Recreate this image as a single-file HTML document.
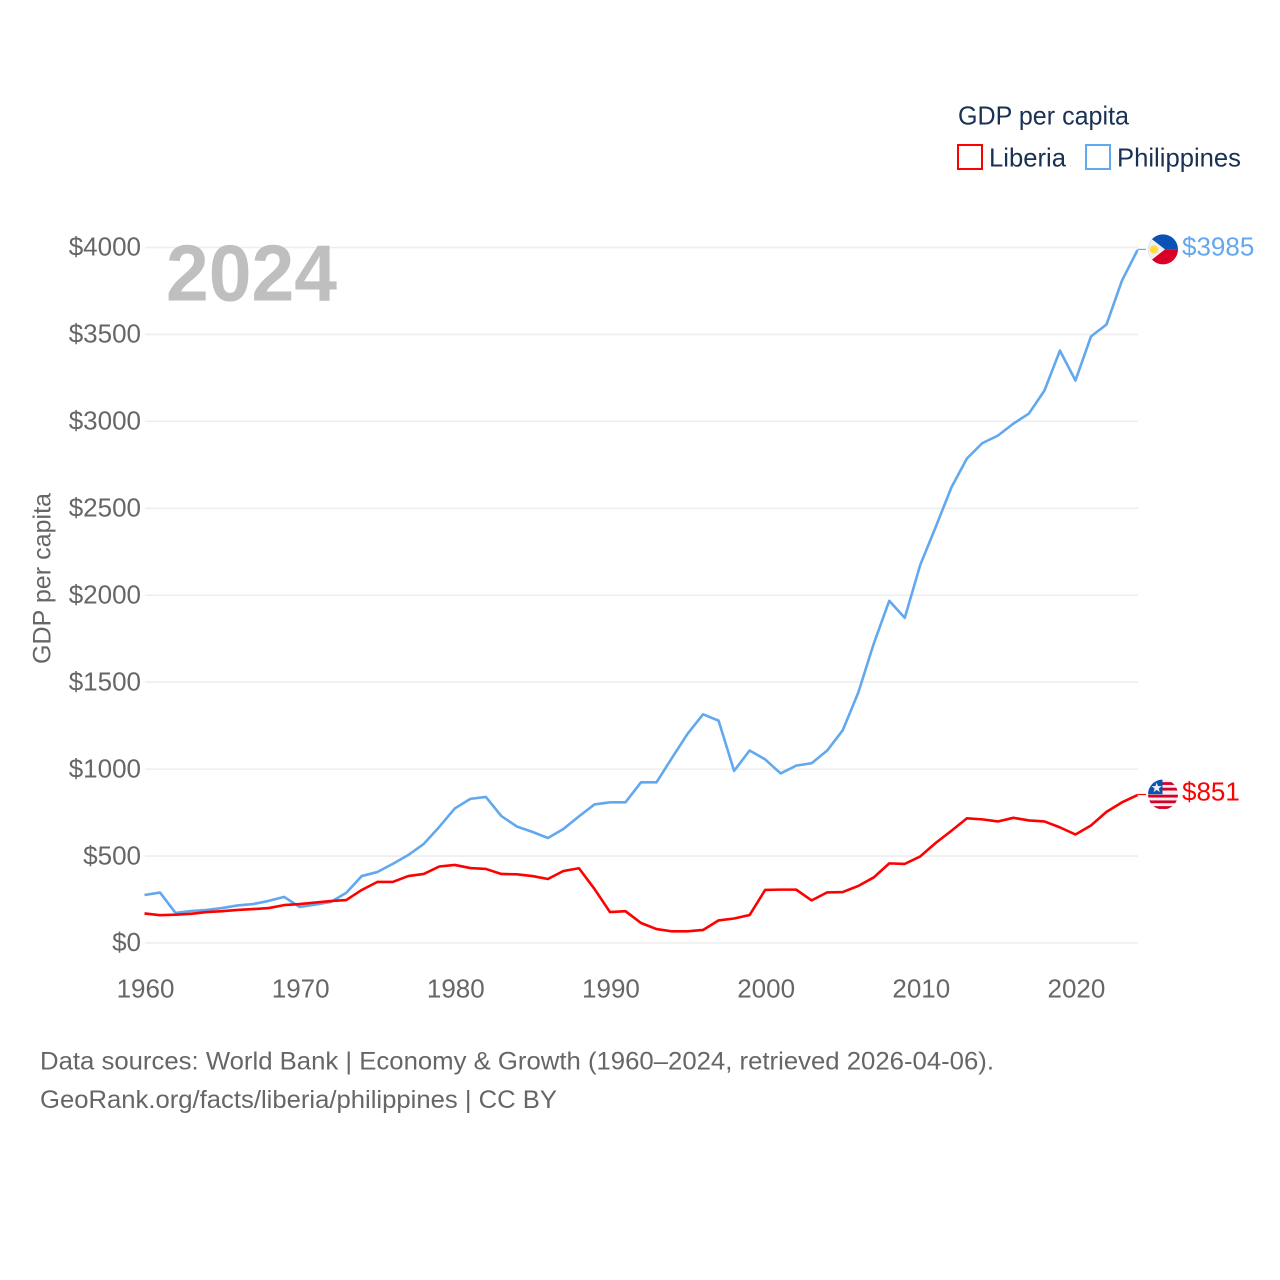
<!DOCTYPE html>
<html lang="en">
<head>
<meta charset="utf-8">
<title>GDP per capita: Liberia vs Philippines</title>
<style>
html,body{margin:0;padding:0;background:#fff;}
svg{display:block;font-family:"Liberation Sans",sans-serif;}
</style>
</head>
<body>
<svg id="chart" xmlns="http://www.w3.org/2000/svg" width="1280" height="1280" viewBox="0 0 1280 1280">
  <rect x="0" y="0" width="1280" height="1280" fill="#ffffff"/>
  <g id="grid"></g>
  <g id="yticks"></g>
  <g id="xticks"></g>
  <text x="166" y="300.5" font-size="80" font-weight="700" fill="#bfbfbf" textLength="171" lengthAdjust="spacingAndGlyphs">2024</text>
  <text transform="translate(50.5,664) rotate(-90)" font-size="25" fill="#666666" textLength="171" lengthAdjust="spacingAndGlyphs">GDP per capita</text>
  <g id="series"></g>
  <g id="ends"></g>
  <g>
    <text x="958" y="124.5" font-size="26" fill="#1a3154" textLength="171" lengthAdjust="spacingAndGlyphs">GDP per capita</text>
    <g>
      <rect x="958" y="145" width="24" height="24" fill="#ffffff" stroke="#ff0000" stroke-width="2"/>
      <text x="989" y="166.5" font-size="26" fill="#1a3154" textLength="77" lengthAdjust="spacingAndGlyphs">Liberia</text>
    </g>
    <g>
      <rect x="1086" y="145" width="24" height="24" fill="#ffffff" stroke="#62a8ee" stroke-width="2"/>
      <text x="1117" y="166.5" font-size="26" fill="#1a3154" textLength="124" lengthAdjust="spacingAndGlyphs">Philippines</text>
    </g>
  </g>
  <g>
    <text x="40" y="1069.5" font-size="25" fill="#666666" textLength="954" lengthAdjust="spacingAndGlyphs">Data sources: World Bank | Economy &amp; Growth (1960–2024, retrieved 2026-04-06).</text>
    <text x="40" y="1108" font-size="25" fill="#666666" textLength="517" lengthAdjust="spacingAndGlyphs">GeoRank.org/facts/liberia/philippines | CC BY</text>
  </g>
</svg>
<script>
const startYear = 1960;
const endYear = 2024;
const yTickValues = [0, 500, 1000, 1500, 2000, 2500, 3000, 3500, 4000];
const xTickYears = [1960, 1970, 1980, 1990, 2000, 2010, 2020];
const liberiaValues = [170,160,163,168,178,183,190,195,201,218,224,233,241,247,305,351,351,385,397,440,449,431,426,397,395,385,368,414,430,311,178,183,115,80,67,67,75,130,141,161,305,307,307,245,291,293,328,377,458,455,498,576,645,717,711,699,720,705,699,665,624,676,754,809,851];
const philippinesValues = [276,290,173,184,190,201,216,224,242,265,207,221,236,288,385,408,455,506,570,668,774,829,840,730,670,639,604,656,728,797,809,809,924,924,1065,1203,1315,1279,990,1107,1056,975,1020,1034,1107,1223,1439,1721,1968,1870,2175,2394,2619,2786,2875,2918,2987,3045,3177,3407,3235,3488,3557,3810,3985];

const NS = 'http://www.w3.org/2000/svg';
const plotLeft = 144.5, plotRight = 1137.5, plotBottom = 943, plotTop = 247.5;
const gridLeft = 145, gridRight = 1138;
const yMax = yTickValues[yTickValues.length - 1];
function xScale(year) { return plotLeft + (year - startYear) * (plotRight - plotLeft) / (endYear - startYear); }
function yScale(v) { return plotBottom - v * (plotBottom - plotTop) / yMax; }
function make(tag, attrs, parent, text) {
  const el = document.createElementNS(NS, tag);
  for (const k in attrs) el.setAttribute(k, attrs[k]);
  if (text !== undefined) el.textContent = text;
  parent.appendChild(el);
  return el;
}

const gridG = document.getElementById('grid');
const yG = document.getElementById('yticks');
yTickValues.forEach(function (v) {
  const line = make('line', {x1: gridLeft, x2: gridRight, y1: yScale(v), y2: yScale(v), stroke: '#eeeeee', 'stroke-width': 1.6}, gridG);
  
  
  const label = make('text', {x: 141, y: yScale(v) + 8.2, 'text-anchor': 'end', 'font-size': 26, fill: '#666666'}, yG, '$' + v);
  
  
});

const xG = document.getElementById('xticks');
xTickYears.forEach(function (yr) {
  const label = make('text', {x: xScale(yr) + 1, y: 997.7, 'text-anchor': 'middle', 'font-size': 26, fill: '#666666'}, xG, String(yr));
  
  
});

function linePoints(values) {
  return values.map(function (v, i) { return xScale(startYear + i).toFixed(2) + ',' + yScale(v).toFixed(2); }).join(' ');
}
const seriesG = document.getElementById('series');
const endsG = document.getElementById('ends');

const blueLine = make('polyline', {points: linePoints(philippinesValues), fill: 'none', stroke: '#62a8ee', 'stroke-width': 2.6, 'stroke-linejoin': 'round'}, seriesG);


const redLine = make('polyline', {points: linePoints(liberiaValues), fill: 'none', stroke: '#ff0000', 'stroke-width': 2.6, 'stroke-linejoin': 'round'}, seriesG);



const flagX = 1163, flagR = 15;

/* Philippines end marker */
const phVal = philippinesValues[philippinesValues.length - 1];
const phY = yScale(phVal) - 0.7;
const phConn = make('line', {x1: plotRight, x2: 1146, y1: phY, y2: phY, stroke: '#62a8ee', 'stroke-width': 1.2}, endsG);


const phFlag = make('g', {transform: 'translate(' + flagX + ',' + phY + ')'}, endsG);


const r = flagR;
make('path', {d: 'M' + (-r) + ',0 A' + r + ',' + r + ' 0 0 1 ' + r + ',0 Z', fill: '#0b52b5'}, phFlag);
make('path', {d: 'M' + (-r) + ',0 A' + r + ',' + r + ' 0 0 0 ' + r + ',0 Z', fill: '#d80027'}, phFlag);
make('path', {d: 'M-11,-10.2 L2,0 L-11,10.2 A' + r + ',' + r + ' 0 0 1 -11,-10.2 Z', fill: '#f0f0f0'}, phFlag);
make('circle', {cx: -9, cy: 0, r: 4.2, fill: '#ffda44'}, phFlag);
const phLabel = make('text', {x: 1182, y: phY + 6.3, 'font-size': 26, fill: '#62a8ee'}, endsG, '$' + phVal);



/* Liberia end marker */
const lbVal = liberiaValues[liberiaValues.length - 1];
const lbY = yScale(lbVal) - 0.5;
const lbConn = make('line', {x1: plotRight, x2: 1146, y1: lbY, y2: lbY, stroke: '#ff0000', 'stroke-width': 1.2}, endsG);


const lbFlag = make('g', {transform: 'translate(' + flagX + ',' + lbY + ')'}, endsG);


const clip = make('clipPath', {id: 'lb-clip'}, lbFlag);
make('circle', {cx: 0, cy: 0, r: r}, clip);
const lbInner = make('g', {'clip-path': 'url(#lb-clip)'}, lbFlag);
make('rect', {x: -r, y: -r, width: 2 * r, height: 2 * r, fill: '#f0f0f0'}, lbInner);
[-12.4, -6.8, 0.2, 5.9, 11.6].forEach(function (sy) {
  make('rect', {x: -r, y: sy, width: 2 * r, height: 2.8, fill: '#d80027'}, lbInner);
});
make('rect', {x: -r, y: -r, width: r - 0.5, height: r - 0.3, fill: '#0b52b5'}, lbInner);
make('polygon', {points: '-6.3,-12 -5,-8.4 -1.2,-8.4 -4.2,-6 -3.2,-2.4 -6.3,-4.6 -9.4,-2.4 -8.4,-6 -11.4,-8.4 -7.6,-8.4', fill: '#f0f0f0'}, lbInner);
const lbLabel = make('text', {x: 1182, y: lbY + 6.2, 'font-size': 26, fill: '#ff0000'}, endsG, '$' + lbVal);


</script>
</body>
</html>
